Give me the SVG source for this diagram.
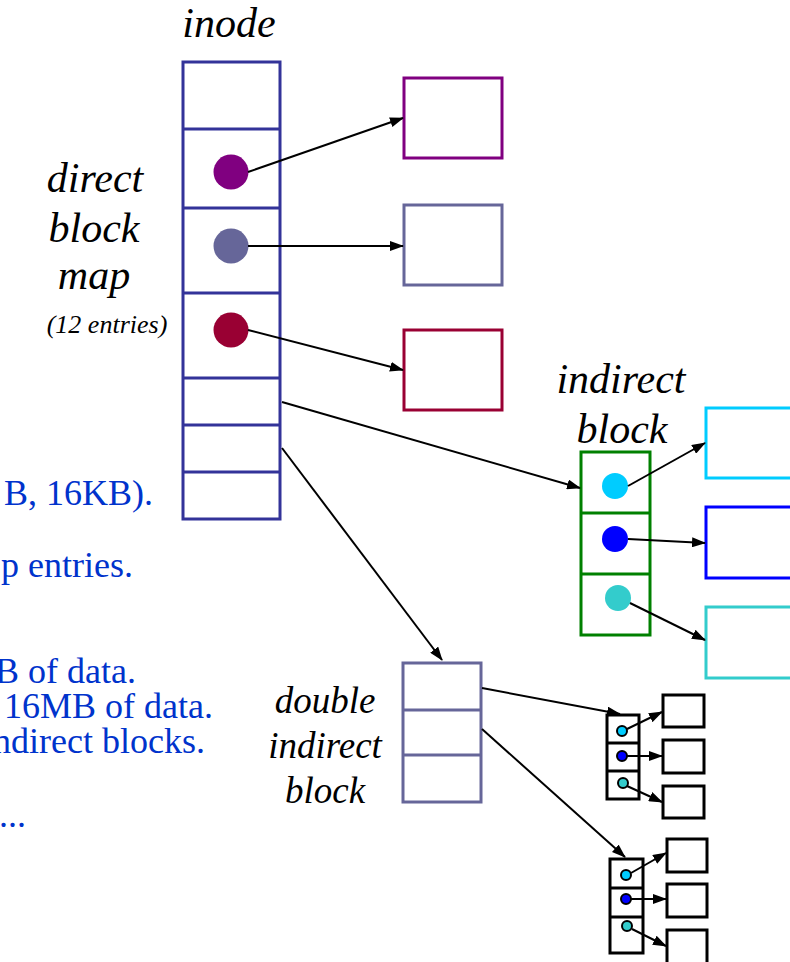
<svg xmlns="http://www.w3.org/2000/svg" width="790" height="962" viewBox="0 0 790 962">
<style>
.lbl{font-family:"Liberation Serif","Times New Roman",serif;font-style:italic;font-size:42px;fill:#000;text-anchor:middle}
.sm{font-size:26px}
.md{font-size:37px}
.blue{font-family:"Liberation Serif","Times New Roman",serif;font-size:36px;fill:#0033CC;text-anchor:end}
.con{stroke:#000;stroke-width:2;fill:none}
.inode{fill:#fff;stroke:#333399;stroke-width:3}
.dbl{fill:#fff;stroke:#666699;stroke-width:3}
.ind{fill:#fff;stroke:#008000;stroke-width:3}
.sb{fill:#fff;stroke:#000;stroke-width:3}
.sd{stroke:#000;stroke-width:2}
</style>
<defs>
<marker id="ah" markerUnits="userSpaceOnUse" markerWidth="14" markerHeight="10" refX="13" refY="5" orient="auto">
<path d="M0,0 L14,5 L0,10 Z" fill="#000"/>
</marker>
</defs>
<rect width="790" height="962" fill="#fff"/>

<g id="text-left">
<text class="blue" x="153" y="505">B, 16KB).</text>
<text class="blue" x="133" y="577">p entries.</text>
<text class="blue" x="136" y="683">B of data.</text>
<text class="blue" x="213" y="718">16MB of data.</text>
<text class="blue" x="205" y="753">ndirect blocks.</text>
<text class="blue" x="26" y="827">...</text>
</g>

<g id="inode">
<text class="lbl" x="229" y="37">inode</text>
<rect class="inode" x="183" y="62" width="97" height="457"/>
<line class="inode" x1="183" y1="129" x2="280" y2="129"/>
<line class="inode" x1="183" y1="208" x2="280" y2="208"/>
<line class="inode" x1="183" y1="293" x2="280" y2="293"/>
<line class="inode" x1="183" y1="378" x2="280" y2="378"/>
<line class="inode" x1="183" y1="425" x2="280" y2="425"/>
<line class="inode" x1="183" y1="472" x2="280" y2="472"/>
<circle cx="231" cy="172" r="17.5" fill="#800080"/>
<circle cx="231" cy="246" r="17.5" fill="#666699"/>
<circle cx="231" cy="330" r="17.5" fill="#990033"/>
</g>

<g id="direct-label">
<text class="lbl" x="95" y="192">direct</text>
<text class="lbl" x="94" y="242">block</text>
<text class="lbl" x="94" y="289">map</text>
<text class="lbl sm" x="107" y="333">(12 entries)</text>
</g>

<g id="data1"><rect x="404" y="78" width="98" height="80" fill="#fff" stroke="#800080" stroke-width="3"/></g>
<g id="data2"><rect x="404" y="205" width="98" height="80" fill="#fff" stroke="#666699" stroke-width="3"/></g>
<g id="data3"><rect x="404" y="330" width="98" height="80" fill="#fff" stroke="#990033" stroke-width="3"/></g>

<g id="indirect">
<text class="lbl" x="621" y="393">indirect</text>
<text class="lbl" x="622" y="443">block</text>
<rect class="ind" x="581" y="452" width="69" height="183"/>
<line class="ind" x1="581" y1="513" x2="650" y2="513"/>
<line class="ind" x1="581" y1="574" x2="650" y2="574"/>
<circle cx="615" cy="486" r="13" fill="#00CCFF"/>
<circle cx="615" cy="539" r="13" fill="#0000FF"/>
<circle cx="618" cy="598" r="13" fill="#33CCCC"/>
</g>

<g id="idata1"><rect x="706" y="408" width="90" height="70" fill="#fff" stroke="#00CCFF" stroke-width="3"/></g>
<g id="idata2"><rect x="706" y="507" width="90" height="71" fill="#fff" stroke="#0000FF" stroke-width="3"/></g>
<g id="idata3"><rect x="706" y="607" width="90" height="71" fill="#fff" stroke="#33CCCC" stroke-width="3"/></g>

<g id="double">
<text class="lbl md" x="325" y="713">double</text>
<text class="lbl md" x="325" y="758">indirect</text>
<text class="lbl md" x="325" y="803">block</text>
<rect class="dbl" x="403" y="663" width="78" height="139"/>
<line class="dbl" x1="403" y1="710" x2="481" y2="710"/>
<line class="dbl" x1="403" y1="755" x2="481" y2="755"/>
</g>

<g id="small1">
<rect class="sb" x="607" y="715" width="32" height="84"/>
<line class="sb" x1="607" y1="743" x2="639" y2="743"/>
<line class="sb" x1="607" y1="771" x2="639" y2="771"/>
<circle class="sd" cx="622" cy="731" r="5" fill="#00CCFF"/>
<circle class="sd" cx="622" cy="756" r="5" fill="#0000FF"/>
<circle class="sd" cx="623" cy="783" r="5" fill="#33CCCC"/>
</g>
<g id="s1d1"><rect class="sb" x="663" y="695" width="41" height="32"/></g>
<g id="s1d2"><rect class="sb" x="663" y="740" width="41" height="33"/></g>
<g id="s1d3"><rect class="sb" x="663" y="786" width="41" height="32"/></g>

<g id="small2">
<rect class="sb" x="610" y="859" width="33" height="94"/>
<line class="sb" x1="610" y1="888" x2="643" y2="888"/>
<line class="sb" x1="610" y1="917" x2="643" y2="917"/>
<circle class="sd" cx="626" cy="875" r="5" fill="#00CCFF"/>
<circle class="sd" cx="626" cy="899" r="5" fill="#0000FF"/>
<circle class="sd" cx="627" cy="926" r="5" fill="#33CCCC"/>
</g>
<g id="s2d1"><rect class="sb" x="667" y="839" width="40" height="33"/></g>
<g id="s2d2"><rect class="sb" x="667" y="884" width="40" height="33"/></g>
<g id="s2d3"><rect class="sb" x="667" y="930" width="40" height="40"/></g>

<g id="connectors">
<line class="con" x1="248" y1="172" x2="403" y2="118" marker-end="url(#ah)"/>
<line class="con" x1="248" y1="246" x2="403" y2="246" marker-end="url(#ah)"/>
<line class="con" x1="248" y1="330" x2="403" y2="370" marker-end="url(#ah)"/>
<line class="con" x1="282" y1="402" x2="580" y2="488" marker-end="url(#ah)"/>
<line class="con" x1="282" y1="448" x2="442" y2="660" marker-end="url(#ah)"/>
<line class="con" x1="628" y1="486" x2="705" y2="443" marker-end="url(#ah)"/>
<line class="con" x1="628" y1="539" x2="705" y2="543" marker-end="url(#ah)"/>
<line class="con" x1="630" y1="603" x2="705" y2="640" marker-end="url(#ah)"/>
<line class="con" x1="482" y1="688" x2="620" y2="714" marker-end="url(#ah)"/>
<line class="con" x1="482" y1="729" x2="625" y2="857" marker-end="url(#ah)"/>
<line class="con" x1="627" y1="729" x2="662" y2="712" marker-end="url(#ah)"/>
<line class="con" x1="627" y1="756" x2="662" y2="756" marker-end="url(#ah)"/>
<line class="con" x1="627" y1="786" x2="662" y2="802" marker-end="url(#ah)"/>
<line class="con" x1="631" y1="873" x2="666" y2="853" marker-end="url(#ah)"/>
<line class="con" x1="631" y1="899" x2="666" y2="899" marker-end="url(#ah)"/>
<line class="con" x1="632" y1="929" x2="666" y2="946" marker-end="url(#ah)"/>
</g>
</svg>
